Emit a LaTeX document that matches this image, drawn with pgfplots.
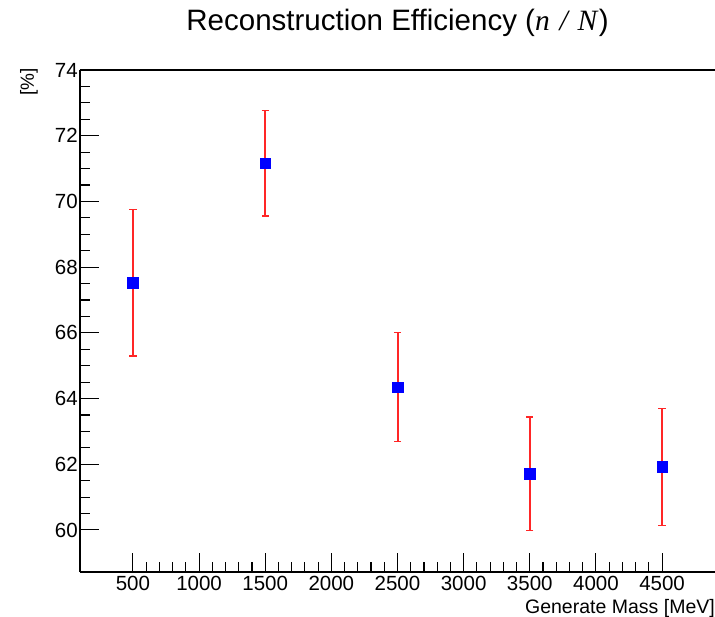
\documentclass[border=0pt]{standalone}
\usepackage{fontspec}
\setmainfont{Liberation Sans}
\newfontfamily\serifit{Liberation Serif}
\usepackage{pgfplots}
\pgfplotsset{compat=1.18}
\begin{document}
\begin{tikzpicture}
\path[use as bounding box] (0,0) rectangle (715pt,616pt);
\begin{axis}[
  at={(80pt,44pt)}, anchor=south west,
  scale only axis, width=635pt, height=502pt,
  xmin=100, xmax=4900, ymin=58.72, ymax=74,
  axis y line*=left,
  axis line style={black, line width=1.2pt},
  xtick={500,1000,...,4500}, minor x tick num=4,
  ytick={60,62,...,74}, minor y tick num=3,
  xtick pos=left, ytick pos=left,
  tick align=inside,
  major tick length=19pt, minor tick length=10pt,
  every tick/.style={black, line width=1.1pt},
  /pgf/number format/assume math mode=true,
  /pgf/number format/set thousands separator={},
  ticklabel style={font=\fontsize{20.5}{24}\selectfont},
  yticklabel style={inner sep=2pt},
  xticklabel style={inner sep=3pt, yshift=-1pt},
  title={Reconstruction Efficiency ({\serifit\itshape n\,\,/\,\,N\/})},
  title style={at={(axis description cs:0.5,1)}, anchor=base, yshift=33pt, font=\fontsize{29.5}{32}\selectfont},
  xlabel={Generate Mass [MeV]},
  xlabel style={at={(axis description cs:1,0)}, anchor=north east, yshift=-27pt, inner sep=0pt, font=\fontsize{19.5}{22}\selectfont},
  ylabel={[\%]},
  ylabel style={at={(axis description cs:-0.0803,1.004)}, anchor=east, inner sep=0pt, font=\fontsize{19}{22}\selectfont},
  clip=false,
]
\addplot[draw=red, color=red, only marks, mark=none,
  error bars/.cd, y dir=both, y explicit,
  error bar style={draw=red!85!white, line width=2pt},
  error mark options={rotate=90, draw=red!85!white, mark size=3.6pt, line width=1.6pt}]
coordinates {
  (500,67.52) +- (0,2.23)
  (1500,71.16) +- (0,1.61)
  (2500,64.35) +- (0,1.66)
  (3500,61.71) +- (0,1.73)
  (4500,61.92) +- (0,1.78)
};
\addplot[blue, only marks, mark=square*, mark size=5.3pt, mark options={draw=blue, fill=blue}]
coordinates {
  (500,67.52)
  (1500,71.16)
  (2500,64.35)
  (3500,61.71)
  (4500,61.92)
};
\end{axis}
\end{tikzpicture}
\end{document}
